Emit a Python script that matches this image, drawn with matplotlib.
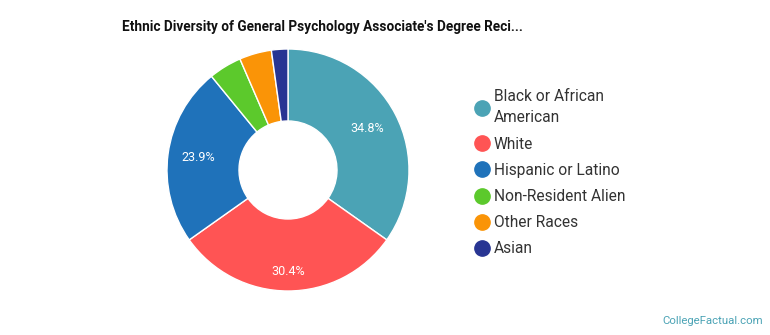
import matplotlib
matplotlib.use('Agg')
import matplotlib.pyplot as plt
from matplotlib.lines import Line2D
import numpy as np

plt.rcParams['font.family'] = ['Roboto', 'DejaVu Sans']

# data
labels = ['Black or African\nAmerican', 'White', 'Hispanic or Latino',
          'Non-Resident Alien', 'Other Races', 'Asian']
shares = [34.8, 30.4, 23.9, 4.4, 4.3, 2.2]
colors = ['#4BA3B5', '#FF5454', '#1F72BA', '#5CC92C', '#FA9407', '#283593']
title = "Ethnic Diversity of General Psychology Associate's Degree Reci..."

W, H = 770, 335
fig = plt.figure(figsize=(W / 100, H / 100), dpi=100)

# donut, centre (288, 170) px, radius 121 px
cx, cy, r = 288, 170, 121
ax = fig.add_axes([(cx - r) / W, (H - cy - r) / H, 2 * r / W, 2 * r / H])
wedges, _ = ax.pie(shares, colors=colors, startangle=90, counterclock=False,
                   wedgeprops=dict(width=0.595, edgecolor='white', linewidth=1))
ax.set_xlim(-1, 1)
ax.set_ylim(-1, 1)
ax.set_aspect('equal')

# percent labels on the three big slices
label_r = [0.74, 0.84, 0.75]
for w, v, lr in zip(wedges[:3], shares[:3], label_r):
    ang = np.deg2rad((w.theta1 + w.theta2) / 2)
    ax.text(lr * np.cos(ang), lr * np.sin(ang), f'{v:.1f}%',
            ha='center', va='center', color='white', fontsize=9)

fig.text(322 / W, 1 - 27 / H, title, ha='center', va='center',
         fontsize=9.8, fontweight='bold', color='#111111')

handles = [Line2D([], [], marker='o', linestyle='', markersize=11,
                  markerfacecolor=c, markeredgecolor=c) for c in colors]
leg = fig.legend(handles, labels, loc='upper left', bbox_to_anchor=(466 / W, 1 - 81 / H),
                 frameon=False, fontsize=11.2, labelcolor='#333333', handlelength=1,
                 handletextpad=0.3, labelspacing=0.72, borderpad=0)
for t in leg.get_texts():
    t.set_linespacing(1.55)

fig.text(763 / W, 1 - 321 / H, 'CollegeFactual.com', ha='right', va='center',
         fontsize=8.2, color='#4BA3B5')

fig.savefig('out.png', dpi=100)
